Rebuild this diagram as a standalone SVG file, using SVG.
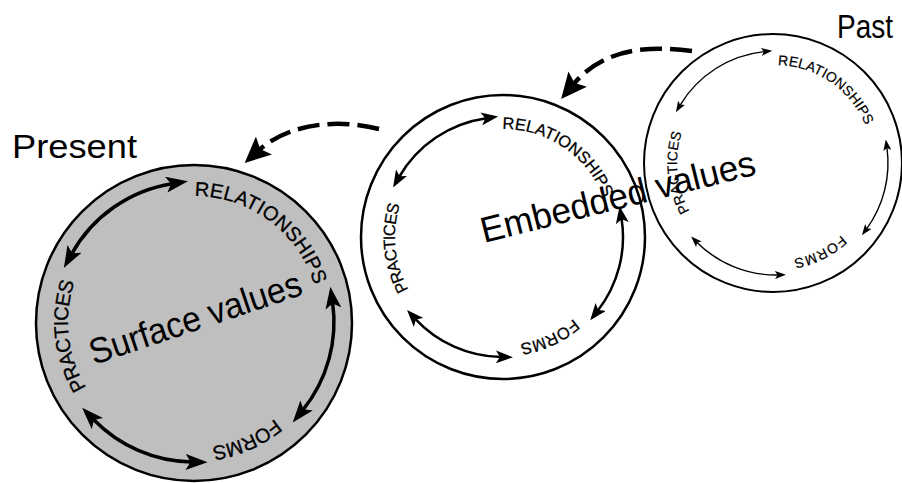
<svg xmlns="http://www.w3.org/2000/svg" width="902" height="483" viewBox="0 0 902 483">
<style>
text{font-family:"Liberation Sans",Arial,sans-serif;fill:#000}
.ring{stroke:#000;fill:none}
.lbl1{font-size:20px;stroke:#000;stroke-width:0.3}
.lbl2{font-size:16.5px;stroke:#000;stroke-width:0.25}
.lbl3{font-size:14px;stroke:#000;stroke-width:0.2}
.big{font-size:36px}
.title{font-size:33px}
.a1{fill:none;stroke:#000;stroke-width:3.5;marker-start:url(#h1);marker-end:url(#h1)}
.a2{fill:none;stroke:#000;stroke-width:2.5;marker-start:url(#h2);marker-end:url(#h2)}
.a3{fill:none;stroke:#000;stroke-width:1.4;marker-start:url(#h3);marker-end:url(#h3)}
.flow{fill:none;stroke:#000;stroke-width:4.5;stroke-dasharray:22 8;marker-end:url(#hd)}
</style>
<defs>
<marker id="h1" viewBox="0 0 22 16" refX="6" refY="8" markerWidth="22" markerHeight="16" markerUnits="userSpaceOnUse" orient="auto-start-reverse"><path d="M0,0 L22,8 L0,16 L5,8 z"/></marker>
<marker id="h2" viewBox="0 0 17 13" refX="5" refY="6.5" markerWidth="17" markerHeight="13" markerUnits="userSpaceOnUse" orient="auto-start-reverse"><path d="M0,0 L17,6.5 L0,13 L4,6.5 z"/></marker>
<marker id="h3" viewBox="0 0 11 8" refX="3" refY="4" markerWidth="11" markerHeight="8" markerUnits="userSpaceOnUse" orient="auto-start-reverse"><path d="M0,0 L11,4 L0,8 L2.5,4 z"/></marker>
<marker id="hd" viewBox="0 0 26 24" refX="8" refY="12" markerWidth="26" markerHeight="24" markerUnits="userSpaceOnUse" orient="auto"><path d="M0,0 L26,12 L0,24 L5,12 z"/></marker>
<path id="tp1" d="M320,322 A126,126 0 1 1 68,322 A126,126 0 1 1 320,322"/>
<path id="tp2" d="M611,237 A108,108 0 1 1 395,237 A108,108 0 1 1 611,237"/>
<path id="tp3" d="M873,163 A98,98 0 1 1 677,163 A98,98 0 1 1 873,163"/>
</defs>
<rect width="902" height="483" fill="#fff"/>

<g id="present">
<circle class="ring" cx="194" cy="323" r="158" style="fill:#bfbfbf" stroke-width="2.5"/>
<text x="12" y="158" class="title" textLength="125" lengthAdjust="spacingAndGlyphs">Present</text>
<text class="lbl1" text-anchor="middle"><textPath href="#tp1" startOffset="674" textLength="160">RELATIONSHIPS</textPath></text>
<text class="lbl1" text-anchor="middle"><textPath href="#tp1" startOffset="145" textLength="70">FORMS</textPath></text>
<text class="lbl1" text-anchor="middle"><textPath href="#tp1" startOffset="381.5" textLength="110">PRACTICES</textPath></text>
<path class="a1" d="M71.6,254.1 A140,140 0 0 1 172.1,183.7"/>
<path class="a1" d="M332.6,302.5 A140,140 0 0 1 302.8,410.1"/>
<path class="a1" d="M191.6,462 A140,140 0 0 1 93.3,419.3"/>
<text x="94" y="365" class="big" textLength="222" lengthAdjust="spacingAndGlyphs" transform="rotate(-18.6 94 365)">Surface values</text>
</g>

<g id="past">
<circle class="ring" cx="773" cy="163" r="129" stroke-width="2"/>
<text x="837" y="38" class="title" textLength="56" lengthAdjust="spacingAndGlyphs">Past</text>
<text class="lbl3" text-anchor="middle"><textPath href="#tp3" startOffset="520" textLength="112">RELATIONSHIPS</textPath></text>
<text class="lbl3" text-anchor="middle"><textPath href="#tp3" startOffset="107.8" textLength="54">FORMS</textPath></text>
<text class="lbl3" text-anchor="middle"><textPath href="#tp3" startOffset="297.6" textLength="81">PRACTICES</textPath></text>
<path class="a3" d="M680,105.3 A112,112 0 0 1 764.3,51.6"/>
<path class="a3" d="M886.9,147.4 A112,112 0 0 1 866.6,228.8"/>
<path class="a3" d="M778,275 A112,112 0 0 1 696.8,242.2"/>
</g>

<g id="embedded">
<circle class="ring" cx="503" cy="237" r="142" stroke-width="2.5"/>
<text class="lbl2" text-anchor="middle"><textPath href="#tp2" startOffset="573" textLength="130">RELATIONSHIPS</textPath></text>
<text class="lbl2" text-anchor="middle"><textPath href="#tp2" startOffset="122.5" textLength="60">FORMS</textPath></text>
<text class="lbl2" text-anchor="middle"><textPath href="#tp2" startOffset="328" textLength="88">PRACTICES</textPath></text>
<path class="a2" d="M399.1,177 A120,120 0 0 1 486.3,118.2"/>
<path class="a2" d="M621.5,218.2 A120,120 0 0 1 597.6,310.9"/>
<path class="a2" d="M500.9,357 A120,120 0 0 1 415.2,318.8"/>
<text x="484" y="243" class="big" textLength="282" lengthAdjust="spacingAndGlyphs" transform="rotate(-14.1 484 243)">Embedded values</text>
</g>

<g id="connectors">
<path class="flow" d="M692,51 C640,44 600,52 572.6,85.2"/>
<path class="flow" d="M379,129 C340,119 290,122 258,150.9"/>
</g>
</svg>
